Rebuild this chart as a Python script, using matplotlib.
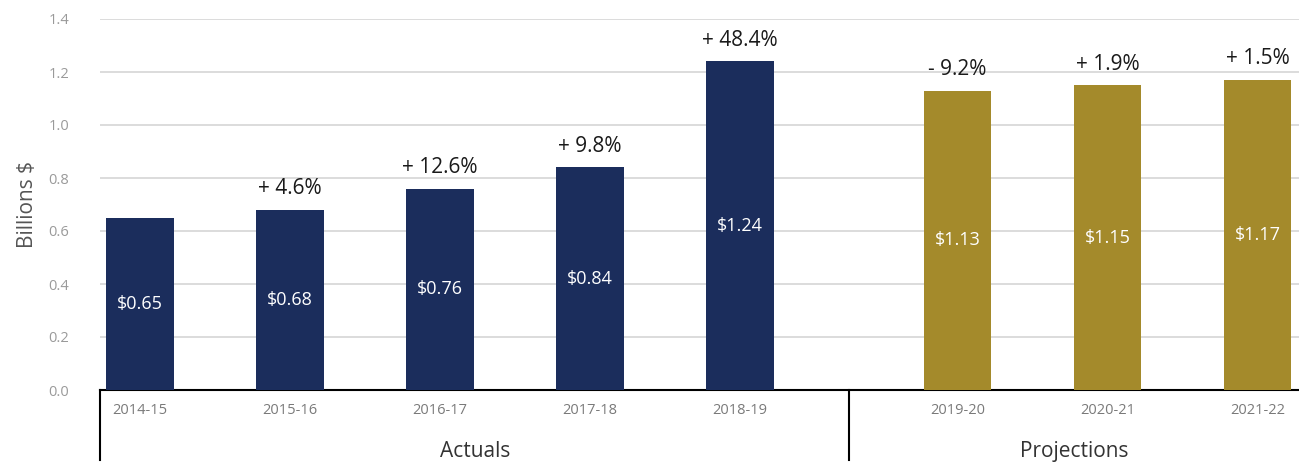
import matplotlib
matplotlib.use("Agg")
import matplotlib.pyplot as plt

years = ["2014-15", "2015-16", "2016-17", "2017-18", "2018-19", "2019-20", "2020-21", "2021-22"]
values = [0.65, 0.68, 0.76, 0.84, 1.24, 1.13, 1.15, 1.17]
changes = ["", "+ 4.6%", "+ 12.6%", "+ 9.8%", "+ 48.4%", "- 9.2%", "+ 1.9%", "+ 1.5%"]
is_projection = [False, False, False, False, False, True, True, True]
groups = ["Actuals", "Projections"]
yticks = [0.0, 0.2, 0.4, 0.6, 0.8, 1.0, 1.2, 1.4]

navy = "#1b2d5c"
gold = "#a48a2b"

plt.rcParams['font.family'] = ['Open Sans', 'DejaVu Sans']

fig = plt.figure(figsize=(12.99, 4.66), dpi=100)
ax = fig.add_axes([100/1299, 76/466, 1 - 100/1299, 371/466])

# positions: projections offset by an extra gap
xs = []
for i, p in enumerate(is_projection):
    xs.append(i + (0.45 if p else 0.0))

colors = [gold if p else navy for p in is_projection]
bars = ax.bar(xs, values, width=0.45, color=colors, zorder=3)

ax.set_ylim(0, 1.4)
ax.set_xlim(-0.267, 7.727)
ax.set_yticks(yticks)
ax.set_yticklabels([f"{t:.1f}" for t in yticks], color="#9a9a9a", fontsize=10.5)
for t in yticks[1:]:
    ax.axhline(t, color="#d9d9d9", linewidth=1.3, zorder=1)

ax.set_xticks(xs)
ax.set_xticklabels(years, color="#7a7a7a", fontsize=10.5)
ax.tick_params(axis="both", length=0)
ax.tick_params(axis="x", pad=9)
ax.tick_params(axis="y", pad=22)

for s in ["top", "right", "left"]:
    ax.spines[s].set_visible(False)
ax.spines["bottom"].set_color("black")
ax.spines["bottom"].set_linewidth(1.5)

ax.set_ylabel("Billions $", fontsize=15, color="#555555", labelpad=8)

for x, v, c in zip(xs, values, changes):
    ax.text(x, v / 2, f"${v:.2f}", ha="center", va="center", color="white", fontsize=13, zorder=4)
    if c:
        ax.text(x, v + 0.04, c, ha="center", va="bottom", color="#1a1a1a", fontsize=15, zorder=4)

# group separators
trans = ax.get_xaxis_transform()
div_x = 4.73
left_x = ax.get_xlim()[0]
right_x = ax.get_xlim()[1]
for dx in [left_x + 0.003, div_x]:
    ax.plot([dx, dx], [0, -0.19], transform=trans, color="black", linewidth=1.5, clip_on=False)
ax.text((left_x + div_x) / 2, -0.165, groups[0], transform=trans, ha="center", va="center",
        fontsize=15, color="#333333")
ax.text((div_x + right_x) / 2, -0.165, groups[1], transform=trans, ha="center", va="center",
        fontsize=15, color="#333333")

fig.savefig("out.png", dpi=100)
